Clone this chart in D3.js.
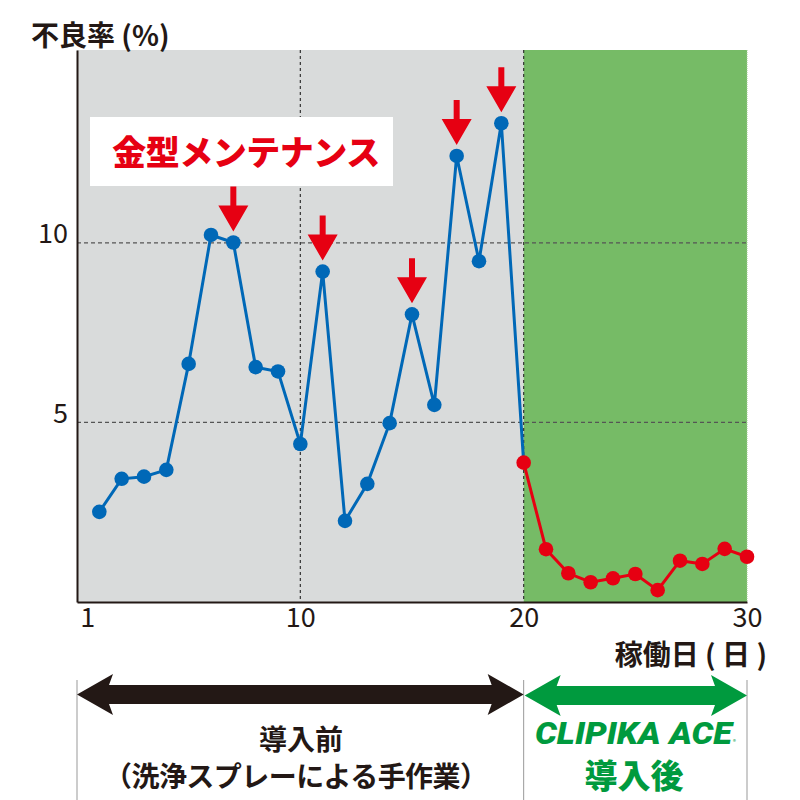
<!DOCTYPE html>
<html><head><meta charset="utf-8">
<script src="https://cdn.jsdelivr.net/npm/d3@7"></script>
<style>
html,body{margin:0;padding:0;background:#fff;}
text{font-family:"Noto Sans CJK JP","Noto Sans",sans-serif;}
</style></head>
<body>
<svg id="chart" width="800" height="800"></svg>
<script>
// ---- data ----
const days = [1,2,3,4,5,6,7,8,9,10,11,12,13,14,15,16,17,18,19,20,21,22,23,24,25,26,27,28,29,30];
const defectRate = [2.51,3.43,3.49,3.68,6.63,10.22,10.01,6.54,6.42,4.40,9.20,2.26,3.29,4.98,8.01,5.49,12.42,9.49,13.33,3.88,1.47,0.80,0.55,0.66,0.78,0.33,1.15,1.06,1.48,1.26];
const maintenanceDays = [7,11,15,17,19];
const introDay = 20;
const xTickValues = [1,10,20,30];
const yTickValues = [5,10];
const yTitle = "不良率 (%)";
const xTitle = "稼働日 ( 日 )";
const legendLabel = "金型メンテナンス";
const beforeLabel = "導入前";
const beforeSub = "（洗浄スプレーによる手作業）";
const productName = "CLIPIKA ACE";
const afterLabel = "導入後";

// ---- layout ----
const svg = d3.select("#chart");
const L = 77, R = 747, T = 50, B = 602;
const x = d3.scaleLinear().domain([0,30]).range([L,R]);
const y = d3.scaleLinear().domain([0,15.37]).range([B,T]);
const ink = "#231815", blue = "#0068b7", red = "#e60012", green = "#009a3e";
const pts = days.map((d,i)=>({d, v:defectRate[i]}));

// backgrounds
svg.append("rect").attr("x",L).attr("y",T).attr("width",x(introDay)-L).attr("height",B-T).attr("fill","#d9dbdb");
svg.append("rect").attr("x",x(introDay)).attr("y",T).attr("width",R-x(introDay)).attr("height",B-T).attr("fill","#76bb66");
svg.append("line").attr("x1",R).attr("x2",R).attr("y1",T).attr("y2",B).attr("stroke","#9cc98f").attr("stroke-width",1).attr("stroke-dasharray","1,1");

// grid
svg.selectAll(".hg").data(yTickValues).join("line")
  .attr("x1",L).attr("x2",R).attr("y1",d=>y(d)).attr("y2",d=>y(d))
  .attr("stroke","#555").attr("stroke-width",1.2).attr("stroke-dasharray","4,3");
svg.selectAll(".vg").data([10,introDay]).join("line")
  .attr("x1",d=>x(d)).attr("x2",d=>x(d)).attr("y1",T).attr("y2",B)
  .attr("stroke","#333").attr("stroke-width",1.2).attr("stroke-dasharray","3,3");

// axes
const yAxis = d3.axisLeft(y).tickValues(yTickValues).tickSize(0).tickPadding(9);
const gy = svg.append("g").attr("transform",`translate(${L},0)`).call(yAxis);
gy.select(".domain").attr("stroke",ink).attr("stroke-width",2);
gy.selectAll("text").attr("font-size",27).attr("fill",ink).attr("dy","0.32em")
  .attr("transform","translate(0,-9)").style("font-family","'Noto Sans CJK JP'");
const xAxis = d3.axisBottom(x).tickValues(xTickValues).tickSize(0).tickPadding(10);
const gx = svg.append("g").attr("transform",`translate(0,${B})`).call(xAxis);
gx.select(".domain").attr("stroke",ink).attr("stroke-width",2);
gx.selectAll("text").attr("font-size",27).attr("fill",ink).attr("dy","0.55em")
  .attr("dx",d=>d===1?-12:0).style("font-family","'Noto Sans CJK JP'");

// titles
svg.append("text").attr("x",31).attr("y",46).attr("font-size",28).attr("font-weight",700).attr("fill",ink).text(yTitle);
svg.append("text").attr("x",767).attr("y",665).attr("text-anchor","end").attr("font-size",28).attr("font-weight",700).attr("fill",ink).text(xTitle);

// lines
const line = d3.line().x(p=>x(p.d)).y(p=>y(p.v));
svg.append("path").datum(pts.filter(p=>p.d<=introDay)).attr("d",line).attr("fill","none").attr("stroke",blue).attr("stroke-width",3);
svg.append("path").datum(pts.filter(p=>p.d>=introDay)).attr("d",line).attr("fill","none").attr("stroke",red).attr("stroke-width",3);
svg.selectAll(".pt").data(pts).join("circle")
  .attr("cx",p=>x(p.d)).attr("cy",p=>y(p.v)).attr("r",7.3)
  .attr("fill",p=>p.d>=introDay?red:blue);

// maintenance arrows
maintenanceDays.forEach(md=>{
  const p = pts.find(q=>q.d===md);
  const cx = x(md), tip = y(p.v)-11;
  const hw=15, sw=3, hl=26, sl=19;
  const poly = [[cx,tip],[cx-hw,tip-hl],[cx-sw,tip-hl],[cx-sw,tip-hl-sl],[cx+sw,tip-hl-sl],[cx+sw,tip-hl],[cx+hw,tip-hl]];
  svg.append("polygon").attr("points",poly.map(a=>a.join(",")).join(" ")).attr("fill",red);
});

// legend box
svg.append("rect").attr("x",90).attr("y",117).attr("width",303).attr("height",69).attr("fill","#fff");
svg.append("text").attr("x",246).attr("y",165).attr("text-anchor","middle").attr("font-size",34).attr("font-weight",900)
  .attr("fill",red).attr("letter-spacing",-0.5).text(legendLabel);

// bottom section
[L, x(introDay), R].forEach(xx=>{
  svg.append("line").attr("x1",xx).attr("x2",xx).attr("y1",680).attr("y2",800).attr("stroke","#999").attr("stroke-width",1);
});
function dblArrow(x0,x1,cy,color){
  const hl=36, hh=20.5, sh=9.5, nk=32;
  const poly=[[x0,cy],[x0+hl,cy-hh],[x0+nk,cy-sh],[x1-nk,cy-sh],[x1-hl,cy-hh],[x1,cy],[x1-hl,cy+hh],[x1-nk,cy+sh],[x0+nk,cy+sh],[x0+hl,cy+hh]];
  svg.append("polygon").attr("points",poly.map(a=>a.join(",")).join(" ")).attr("fill",color);
}
dblArrow(L, x(introDay), 694.5, ink);
dblArrow(x(introDay)+1, R, 695.5, green);

svg.append("text").attr("x",301).attr("y",750).attr("text-anchor","middle").attr("font-size",28).attr("font-weight",700).attr("fill",ink).text(beforeLabel);
svg.append("text").attr("x",296).attr("y",787).attr("text-anchor","middle").attr("font-size",28).attr("font-weight",700).attr("fill",ink)
  .attr("textLength",384).attr("lengthAdjust","spacing").text(beforeSub);

svg.append("text").attr("x",535).attr("y",744).attr("font-size",32).attr("font-weight",900).attr("font-style","italic")
  .attr("fill",green).attr("textLength",197).attr("lengthAdjust","spacingAndGlyphs")
  .style("font-family","'Liberation Sans Narrow','Roboto',sans-serif").text(productName);
svg.append("text").attr("x",733).attr("y",744).attr("font-size",6).attr("fill",green).text("®");
svg.append("text").attr("x",634).attr("y",788).attr("text-anchor","middle").attr("font-size",33).attr("font-weight",900).attr("fill",green).text(afterLabel);
</script>
</body></html>
